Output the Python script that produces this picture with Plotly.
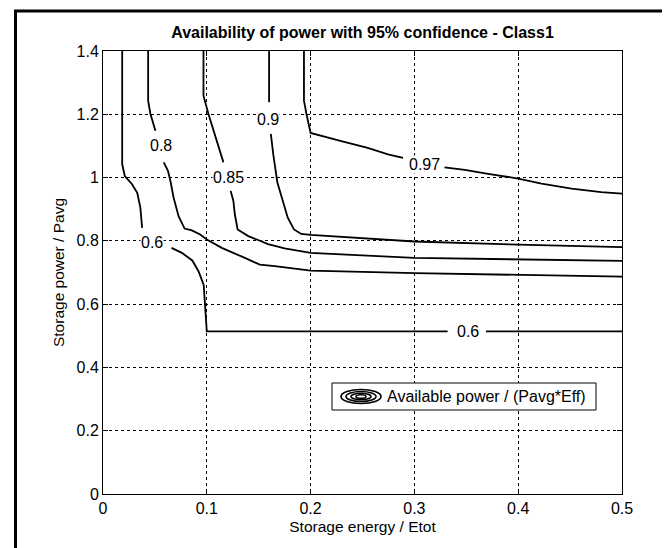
import plotly.graph_objects as go

# ---- data ----
c060_x = [0.0185, 0.0185, 0.021, 0.028, 0.033, 0.036, 0.0377, None,
          0.066, 0.076, 0.086, 0.092, 0.097, 0.098, 0.099, 0.1, 0.332, None, 0.369, 0.5]
c060_y = [1.4, 1.042, 1.005, 0.979, 0.952, 0.905, 0.841, None,
          0.778, 0.762, 0.738, 0.704, 0.661, 0.598, 0.545, 0.514, 0.514, None, 0.514, 0.514]

c080_x = [0.0435, 0.0435, 0.0457, 0.0505, None, 0.0585, 0.0626, 0.0649, 0.068, 0.0728,
          0.0786, 0.0856, 0.0936, 0.1, 0.1144, 0.1367, 0.151, 0.1655, 0.2, 0.3, 0.4, 0.5]
c080_y = [1.4, 1.243, 1.201, 1.148, None, 1.048, 1.021, 0.99, 0.937, 0.878,
          0.839, 0.833, 0.82, 0.804, 0.778, 0.746, 0.725, 0.72, 0.706, 0.698, 0.692, 0.687]

c085_x = [0.0968, 0.0968, 0.1016, 0.1064, 0.111, 0.116, None, 0.123, 0.1256, 0.127,
          0.1297, 0.14, 0.159, 0.175, 0.2, 0.3, 0.4, 0.5]
c085_y = [1.4, 1.259, 1.201, 1.148, 1.095, 1.048, None, 0.958, 0.926, 0.884,
          0.836, 0.815, 0.79, 0.776, 0.762, 0.746, 0.741, 0.737]

c090_x = [0.16, 0.16, None, 0.1617, 0.164, 0.168, 0.1735, 0.178, 0.184, 0.191, 0.2, 0.3, 0.4, 0.5]
c090_y = [1.4, 1.238, None, 1.138, 1.074, 0.984, 0.926, 0.873, 0.836, 0.822, 0.819, 0.798, 0.788, 0.780]

c097_x = [0.1936, 0.1936, 0.196, 0.2, 0.2296, 0.255, 0.2746, 0.289, None,
          0.329, 0.3486, 0.371, 0.4, 0.4225, 0.4514, 0.48, 0.5]
c097_y = [1.4, 1.243, 1.201, 1.141, 1.115, 1.094, 1.073, 1.062, None,
          1.032, 1.024, 1.012, 0.997, 0.981, 0.965, 0.954, 0.949]

label_x = [0.047, 0.3516, 0.056, 0.1208, 0.159, 0.31]
label_y = [0.794, 0.514, 1.1, 1.0, 1.185, 1.04]
label_text = ["0.6", "0.6", "0.8", "0.85", "0.9", "0.97"]

x_ticks = [0, 0.1, 0.2, 0.3, 0.4, 0.5]
y_ticks = [0, 0.2, 0.4, 0.6, 0.8, 1.0, 1.2, 1.4]
x_ticktext = ["0", "0.1", "0.2", "0.3", "0.4", "0.5"]
y_ticktext = ["0", "0.2", "0.4", "0.6", "0.8", "1", "1.2", "1.4"]

title_text = "Availability of power with 95% confidence - Class1"
x_title = "Storage energy / Etot"
y_title = "Storage power / Pavg"
legend_text = "Available power / (Pavg*Eff)"

# ---- figure ----
W, H = 670, 548
L, R, T, B = 95, 56, 43, 62
pw, ph = W - L - R, H - T - B

def px2paper_x(px):
    return (px - L) / pw

def py2paper_y(py):
    return (H - B - py) / ph

FONT = "Liberation Sans, Arial, sans-serif"

fig = go.Figure()
for xs, ys in [(c060_x, c060_y), (c080_x, c080_y), (c085_x, c085_y),
               (c090_x, c090_y), (c097_x, c097_y)]:
    fig.add_trace(go.Scatter(x=xs, y=ys, mode="lines", connectgaps=False,
                             line=dict(color="black", width=1.8),
                             showlegend=False, hoverinfo="skip"))

annotations = []
for lx, ly, lt in zip(label_x, label_y, label_text):
    annotations.append(dict(x=lx, y=ly, xref="x", yref="y", text=lt, showarrow=False,
                            font=dict(family=FONT, size=16, color="black"),
                            bgcolor="white", borderpad=0))

# legend (manual, MATLAB style)
leg_l, leg_r, leg_t, leg_b = 324, 588, 375, 402
annotations.append(dict(x=px2paper_x(377), y=py2paper_y((leg_t + leg_b) / 2),
                        xref="paper", yref="paper", xanchor="left", yanchor="middle",
                        text=legend_text, showarrow=False,
                        font=dict(family=FONT, size=16, color="black")))

shapes = []
shapes.append(dict(type="rect", xref="paper", yref="paper",
                   x0=px2paper_x(leg_l), x1=px2paper_x(leg_r),
                   y0=py2paper_y(leg_b), y1=py2paper_y(leg_t),
                   line=dict(color="black", width=1), fillcolor="white", layer="above"))
cx, cy = 353, 388.5
for rx, ry in [(20, 7), (15, 5), (10, 3.3), (5, 1.8)]:
    shapes.append(dict(type="circle", xref="paper", yref="paper",
                       x0=px2paper_x(cx - rx), x1=px2paper_x(cx + rx),
                       y0=py2paper_y(cy + ry), y1=py2paper_y(cy - ry),
                       line=dict(color="black", width=1.6), layer="above"))

# outer figure frame
shapes.append(dict(type="rect", xref="paper", yref="paper",
                   x0=px2paper_x(7.5), x1=px2paper_x(667.5),
                   y0=py2paper_y(545.5), y1=py2paper_y(3),
                   line=dict(color="black", width=3), layer="above"))

axis_common = dict(showline=True, linecolor="black", linewidth=1, mirror="ticks",
                   ticks="inside", ticklen=5, tickcolor="black",
                   showgrid=True, gridcolor="black", gridwidth=1, griddash="3px,3px",
                   zeroline=False, tickfont=dict(family=FONT, size=16, color="black"))

fig.update_layout(
    width=W, height=H,
    margin=dict(l=L, r=R, t=T, b=B),
    paper_bgcolor="white", plot_bgcolor="white",
    font=dict(family=FONT, color="black"),
    title=dict(text="<b>" + title_text + "</b>", x=(L + pw / 2) / W, xanchor="center",
               y=1 - 24 / H, yanchor="middle", font=dict(family=FONT, size=16, color="black")),
    xaxis=dict(range=[0, 0.5], tickvals=x_ticks, ticktext=x_ticktext,
               title=dict(text=x_title, standoff=4, font=dict(family=FONT, size=15.5)),
               **axis_common),
    yaxis=dict(range=[0, 1.4], tickvals=y_ticks, ticktext=y_ticktext,
               title=dict(text=y_title, standoff=8, font=dict(family=FONT, size=15.5)),
               **axis_common),
    annotations=annotations,
    shapes=shapes,
    showlegend=False,
)

fig.write_html("out.html")
